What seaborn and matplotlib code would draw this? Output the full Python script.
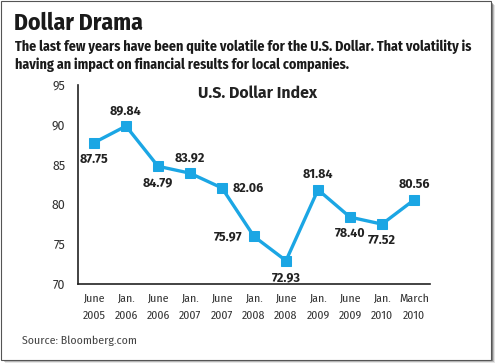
import numpy as np
import pandas as pd
import seaborn as sns
from matplotlib import pyplot as plt
from matplotlib.patches import Rectangle

# chart data
months = ["June\n2005", "Jan.\n2006", "June\n2006", "Jan.\n2007", "June\n2007", "Jan.\n2008",
          "June\n2008", "Jan.\n2009", "June\n2009", "Jan.\n2010", "March\n2010"]
index_values = [87.75, 89.84, 84.79, 83.92, 82.06, 75.97, 72.93, 81.84, 78.40, 77.52, 80.56]
# where each value label sits relative to its point
label_side = ["below", "above", "below", "above", "right", "left",
              "below", "above", "below", "below", "above"]

df = pd.DataFrame({"pos": np.arange(len(months)), "value": index_values})

sns.set_style("white")
narrow = ["Fira Sans Condensed", "Roboto Condensed", "DejaVu Sans"]
regular = ["Fira Sans", "Open Sans", "DejaVu Sans"]
plt.rcParams["font.family"] = regular

fig = plt.figure(figsize=(5.0, 3.64), dpi=100)

# frame with a soft shadow
for i, a in enumerate([0.10, 0.18, 0.30]):
    off = (3 - i) / 500
    fig.patches.append(Rectangle((0.004 + off, 0.01 - off * 500 / 364), 0.98, 0.985,
                                 transform=fig.transFigure, facecolor="black",
                                 alpha=a, edgecolor="none", zorder=0))
fig.patches.append(Rectangle((0.002, 0.011), 0.98, 0.985, transform=fig.transFigure,
                             facecolor="white", edgecolor="#555555", linewidth=0.8, zorder=1))

ax = fig.add_axes([0.156, 0.2198, 0.704, 0.5467])
ax.set_zorder(5)
ax.set_facecolor("none")

blue = "#1ba6e4"
sns.lineplot(data=df, x="pos", y="value", ax=ax, color=blue, linewidth=2.4,
             marker="s", markersize=7.5, markeredgecolor=blue)

offsets = {"below": (0, -12, "center"), "above": (0, 11, "center"),
           "right": (8, 0, "left"), "left": (-8, 0, "right")}
for x, y, side in zip(df["pos"], df["value"], label_side):
    dx, dy, ha = offsets[side]
    ax.annotate(f"{y:.2f}", (x, y), xytext=(dx, dy), textcoords="offset points",
                ha=ha, va="center", fontsize=9, fontweight="bold", color="#222222")

ax.set_xlim(-0.5, len(months) - 0.5)
ax.set_ylim(70, 95)
ax.set_yticks(range(70, 96, 5))
ax.set_xticks(df["pos"])
ax.set_xticklabels(months, family=narrow, fontsize=8.5, color="#333333", linespacing=1.7)
ax.set_xticks(np.arange(0.5, len(months), 1), minor=True)
ax.tick_params(axis="x", which="major", length=0, pad=7)
ax.tick_params(axis="x", which="minor", direction="in", length=4, width=1, color="#222222")
ax.tick_params(axis="y", direction="out", length=4, width=1, color="#222222",
               labelsize=9, labelcolor="#333333", pad=5)
ax.set_xlabel("")
ax.set_ylabel("")
for s in ["top", "right"]:
    ax.spines[s].set_visible(False)
for s in ["left", "bottom"]:
    ax.spines[s].set_color("#222222")
    ax.spines[s].set_linewidth(1.2)

fig.text(257 / 500, 1 - 93 / 364, "U.S. Dollar Index", zorder=6,
         ha="center", va="center", fontsize=11.5, fontweight="bold", color="#222222")

fig.text(14 / 500, 1 - 23 / 364, "Dollar Drama", family=narrow, fontsize=17,
         fontweight="bold", color="#1a1a1a", va="center", ha="left", zorder=6)
fig.text(15 / 500, 1 - 56 / 364,
         "The last few years have been quite volatile for the U.S. Dollar. That volatility is\n"
         "having an impact on financial results for local companies.",
         family=narrow, fontsize=10.1, fontweight="bold", color="#1a1a1a",
         va="center", ha="left", linespacing=1.3, zorder=6)
fig.text(22 / 500, 1 - 341 / 364, "Source: Bloomberg.com", family=narrow, fontsize=8.5,
         color="#444444", va="center", ha="left", zorder=6)

fig.savefig("out.png", dpi=100)
